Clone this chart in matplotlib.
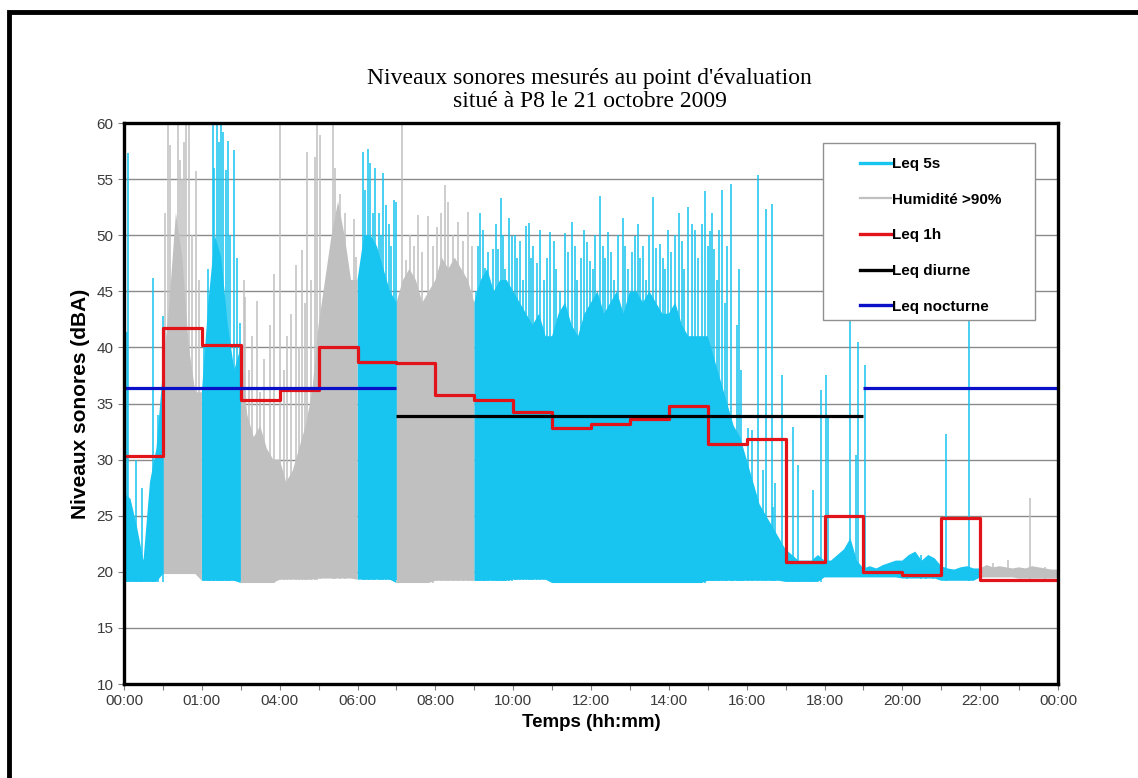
import numpy as np
import matplotlib.pyplot as plt
from matplotlib.lines import Line2D
from matplotlib.patches import Rectangle

# Leq 1h, one value per hour (00:00 -> 23:00)
leq_1h = [30.3, 41.7, 40.2, 35.3, 36.2, 40.0, 38.7, 38.6, 35.8, 35.3, 34.2, 32.8,
          33.2, 33.6, 34.8, 31.4, 31.8, 20.9, 25.0, 20.0, 19.7, 24.8, 19.3, 19.3]

leq_diurne = 33.9
leq_nocturne = 36.4
day_period = (7, 19)
night_periods = [(0, 7), (19, 24)]

# periods with relative humidity above 90 %
humid_periods = [(1, 2), (3, 6), (7, 9), (22, 24)]

# Leq 5s body: upper envelope every 10 minutes, floor per hour
env_top = [27, 26.5, 24, 21, 28, 31,
           38, 44, 52, 48, 40, 36,
           36, 44, 50, 48, 42, 38,
           40, 34, 32, 33, 31, 30,
           30, 28, 29, 31, 33, 36,
           42, 46, 50, 53, 50, 46,
           46, 50, 50, 49, 47, 45,
           44, 46, 47, 46, 44, 45,
           46, 48, 47, 48, 47, 46,
           44, 46, 47, 45, 46, 46,
           45, 44, 43, 42, 43, 41,
           41, 43, 44, 42, 41, 43,
           44, 45, 43, 44, 45, 43,
           45, 45, 44, 45, 44, 43,
           43, 44, 42, 41, 41, 41,
           41, 39, 37, 35, 33, 32,
           30, 28, 26, 25, 24, 23,
           22, 21.5, 21, 21, 21, 21.5,
           21, 21, 21.5, 22, 23, 21,
           20.3, 20.5, 20.3, 20.6, 20.8, 21,
           21, 21.5, 21.8, 21, 21.5, 21.2,
           20.5, 20.3, 20.2, 20.4, 20.5, 20.3,
           20.3, 20.6, 20.4, 20.5, 20.4, 20.3,
           20.4, 20.3, 20.5, 20.4, 20.3, 20.2,
           20.2]
floor_hourly = [19.1, 19.8, 19.2, 19.0, 19.3, 19.4, 19.3, 19.0, 19.2, 19.2, 19.3, 19.0,
                19.0, 19.0, 19.0, 19.2, 19.2, 19.1, 19.5, 19.5, 19.4, 19.2, 19.5, 19.4]

# individual Leq 5s peaks (hour, dBA)
spike_hours = [0.08, 0.11, 0.3, 0.45, 0.75, 0.88, 0.99,
               1.05, 1.12, 1.18, 1.25, 1.31, 1.38, 1.44, 1.5, 1.55, 1.6, 1.68, 1.75, 1.85, 1.92,
               2.05, 2.15, 2.21, 2.28, 2.32, 2.38, 2.45, 2.5, 2.54, 2.61, 2.66, 2.72, 2.83,
               2.9, 2.98,
               3.07, 3.10, 3.2, 3.3, 3.41, 3.5, 3.6, 3.75, 3.86, 4.01, 4.1, 4.2, 4.3, 4.42,
               4.5, 4.57, 4.65, 4.69, 4.80, 4.91, 4.95,
               5.04, 5.38, 5.42, 5.55, 5.68, 5.91, 5.97,
               6.15, 6.2, 6.26, 6.33, 6.4, 6.45, 6.55, 6.6, 6.65, 6.73, 6.8, 6.87, 6.94, 6.99,
               7.15, 7.24, 7.35, 7.45, 7.56, 7.65, 7.82, 7.95, 8.04, 8.15, 8.25, 8.33, 8.45,
               8.59, 8.7, 8.85, 8.95,
               9.05, 9.1, 9.15, 9.22, 9.28, 9.36, 9.49, 9.55, 9.62, 9.69, 9.75, 9.8, 9.88,
               9.96,
               10.05, 10.1, 10.18, 10.25, 10.33, 10.41, 10.45, 10.52, 10.6, 10.7, 10.8,
               10.87, 10.95,
               11.05, 11.1, 11.2, 11.33, 11.4, 11.50, 11.58, 11.65, 11.75, 11.82, 11.89,
               11.98,
               12.05, 12.1, 12.23, 12.3, 12.35, 12.44, 12.52, 12.6, 12.7, 12.81, 12.88,
               12.95,
               13.05, 13.13, 13.2, 13.25, 13.33, 13.4, 13.5, 13.60, 13.66, 13.76, 13.84,
               13.9, 13.97,
               14.05, 14.15, 14.27, 14.35, 14.4, 14.50, 14.59, 14.68, 14.75, 14.84, 14.93,
               15.0, 15.06, 15.12, 15.17, 15.25, 15.3, 15.36, 15.45, 15.5, 15.59, 15.66,
               15.75, 15.8, 15.85, 15.91,
               16.04, 16.13, 16.30, 16.43, 16.50, 16.64, 16.68, 16.73, 16.90,
               17.20, 17.33, 17.71, 17.92, 18.05, 18.10, 18.65, 18.80, 18.87, 19.04,
               20.11, 20.49, 20.61, 20.78, 21.12, 21.71,
               22.34, 22.43, 22.72, 23.28, 23.67]
spike_db = [41.4, 57.3, 30, 27.5, 46.2, 34, 42.8,
            52, 60, 58, 44.4, 49.6, 60, 56.7, 55, 58.3, 60, 60, 50, 55.7, 46,
            40, 47, 41.8, 60, 56, 60, 58.3, 60, 59.2, 55.8, 58.4, 50, 57.6,
            48, 42.2,
            46.0, 44.5, 38, 41, 44.1, 36, 39, 42, 46.5, 60, 38, 41, 43, 47.3,
            40, 48.7, 44, 57.4, 46.0, 57.0, 60,
            58.9, 60, 56.0, 53.7, 52.0, 51.4, 48.1,
            57.4, 54, 57.7, 56.4, 52, 56.0, 52, 50, 55.5, 52.7, 51, 49, 53.1, 53.0,
            60, 47.8, 50, 49, 51.8, 48.5, 51.7, 49, 50.7, 52, 54.5, 53.0, 50,
            51.2, 49.5, 52.1, 49.0,
            45, 49, 52.0, 50.5, 47.1, 48.5, 48.8, 51, 48.8, 53.3, 50, 47, 51.5,
            49.9,
            50, 48, 49.5, 46, 50.8, 51.1, 48.0, 49, 47.5, 50.5, 46,
            48, 50.3,
            49.5, 47, 45, 50.2, 48.5, 51.2, 49, 46, 48, 50.5, 49.4,
            47.7,
            47, 50, 53.5, 49, 48, 50.3, 48.5, 46, 50, 51.5, 49,
            47,
            48.5, 49.9, 51, 48, 49, 46, 50, 53.4, 48.9, 49.2, 48,
            47, 50.5,
            48.5, 50, 52.0, 49.5, 47, 52.5, 51.0, 50.5, 48, 51, 53.9,
            49, 50.4, 52, 48.8, 46, 50.5, 54.0, 44, 49, 54.6, 31.0,
            42, 47, 38, 28.2,
            32.8, 32.6, 55.4, 29.1, 52.3, 52.8, 25.8, 27.9, 37.5,
            32.9, 29.5, 27.3, 36.2, 37.5, 33.7, 44.0, 30.4, 40.5, 38.4,
            20.8, 21.5, 21.0, 21.0, 32.3, 43.5,
            20.8, 20.4, 21.05, 26.6, 20.4]

x_tick_labels = ["00:00", "01:00", "04:00", "06:00", "08:00", "10:00", "12:00",
                 "14:00", "16:00", "18:00", "20:00", "22:00", "00:00"]

cyan = "#18c4f0"
grey = "#c0c0c0"
red = "#e2141a"
blue = "#0a10c8"


def is_humid(h):
    return any(a <= h <= b for a, b in humid_periods)


t_env = np.linspace(0, 24, len(env_top))
top = np.array(env_top)
floor = np.append(np.repeat(floor_hourly, 6), floor_hourly[-1])
humid_mask = np.array([is_humid(h) for h in t_env])
# keep the boundary points in both colours so the bands touch
dry_mask = np.array([not is_humid(h) or any(h in (a, b) for a, b in humid_periods)
                     for h in t_env])

fig = plt.figure(figsize=(11.38, 7.78), dpi=100)
ax = fig.add_axes([0.109, 0.1208, 0.8207, 0.7211])

ax.fill_between(t_env, floor, top, where=dry_mask, color=cyan, lw=0, zorder=2)
ax.fill_between(t_env, floor, top, where=humid_mask, color=grey, lw=0, zorder=2)

sp_h = np.array(spike_hours)
sp_v = np.array(spike_db)
sp_floor = np.array([floor_hourly[min(int(h), 23)] for h in sp_h])
sp_col = [grey if is_humid(h) else cyan for h in sp_h]
ax.vlines(sp_h, sp_floor, sp_v, colors=sp_col, lw=1.1, zorder=2)

hour_edges = np.arange(25)
ax.step(hour_edges, leq_1h + [leq_1h[-1]], where="post", color=red, lw=2.3, zorder=4)
ax.hlines(leq_diurne, *day_period, color="black", lw=2.3, zorder=4)
for a, b in night_periods:
    ax.hlines(leq_nocturne, a, b, color=blue, lw=2.3, zorder=4)

ax.set_xlim(0, 24)
ax.set_ylim(10, 60)
ax.set_yticks(np.arange(10, 61, 5))
ax.set_xticks(np.arange(0, 25, 2))
ax.set_xticklabels(x_tick_labels)
ax.set_xticks(np.arange(1, 24, 2), minor=True)
ax.yaxis.grid(True, color="#8a8a8a", lw=1)
ax.set_axisbelow(True)
ax.tick_params(axis="both", which="both", direction="out", length=4, width=0.8,
               color="#808080", labelsize=11, labelcolor="#3a3a3a")
for s in ax.spines.values():
    s.set_linewidth(2.4)
    s.set_color("black")
    s.set_zorder(6)

ax.set_xlabel("Temps (hh:mm)", fontsize=13.5, fontweight="bold",
              family="Liberation Sans", labelpad=4)
ax.set_ylabel("Niveaux sonores (dBA)", fontsize=15, fontweight="bold",
              family="Liberation Sans", labelpad=5)
for lab in ax.get_xticklabels() + ax.get_yticklabels():
    lab.set_family("Liberation Sans")

fig.text(0.518, 0.884, "Niveaux sonores mesurés au point d'évaluation\nsitué à P8 le 21 octobre 2009",
         ha="center", va="center", family="Liberation Serif", fontsize=17,
         linespacing=1.1)

# legend box
ax.add_patch(Rectangle((0.748, 0.649), 0.227, 0.315, transform=ax.transAxes,
                       facecolor="white", edgecolor="#909090", lw=1, zorder=7))
handles = [Line2D([], [], color=cyan, lw=2.4),
           Line2D([], [], color=grey, lw=1.6),
           Line2D([], [], color=red, lw=2.4),
           Line2D([], [], color="black", lw=2.4),
           Line2D([], [], color=blue, lw=2.4)]
labels = ["Leq 5s", "Humidité >90%", "Leq 1h", "Leq diurne", "Leq nocturne"]
leg = ax.legend(handles, labels, loc="upper left", bbox_to_anchor=(0.78, 0.953),
                frameon=False, handlelength=2.0, handletextpad=0.1,
                labelspacing=1.42, borderpad=0,
                prop={"family": "Liberation Sans", "weight": "bold", "size": 11})
leg.set_zorder(8)

# outer frame
fig.patches.append(Rectangle((0.008, -0.05), 1.2, 1.035, transform=fig.transFigure,
                             fill=False, edgecolor="black", lw=3.5, figure=fig))

fig.savefig("out.png", dpi=100)
